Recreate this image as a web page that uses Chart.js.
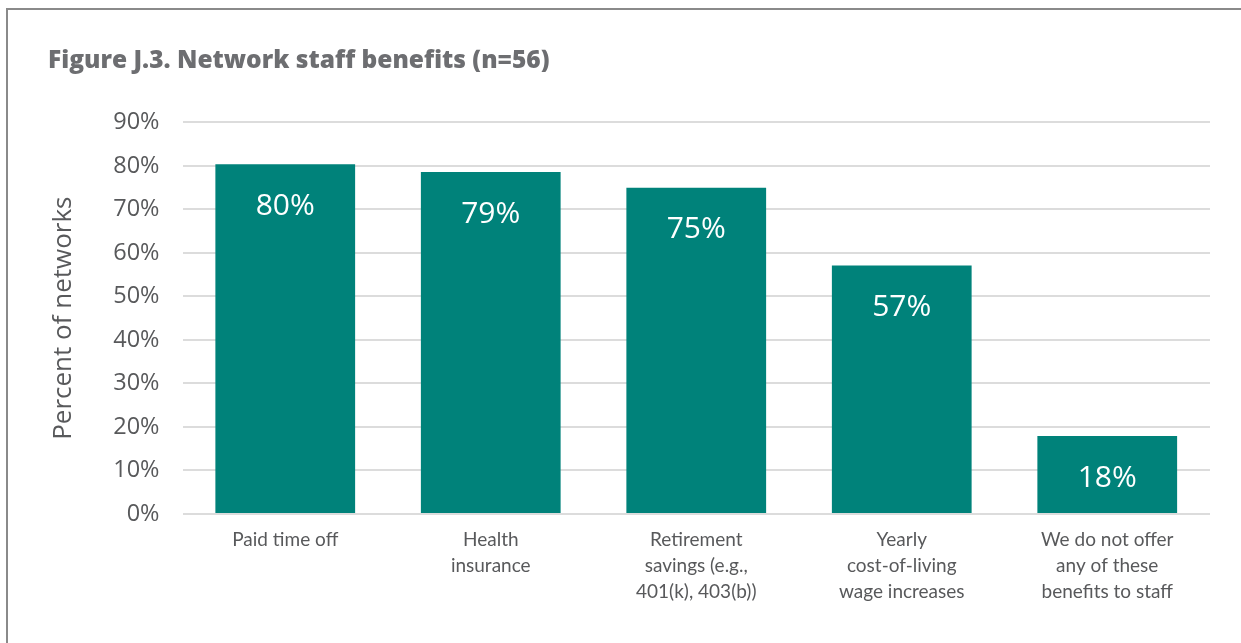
<!DOCTYPE html>
<html>
<head>
<meta charset="utf-8">
<script src="https://cdn.jsdelivr.net/npm/chart.js@4/dist/chart.umd.min.js"></script>
<style>
  html, body { margin: 0; padding: 0; background: #ffffff; overflow: hidden; }
  #frame {
    position: absolute; left: 6px; top: 8px; width: 1300px; height: 700px;
    border-left: 2px solid #8a8a8a; border-top: 2px solid #8a8a8a;
  }
  #wrap { position: absolute; left: 0; top: 0; width: 1241px; height: 643px; }
</style>
</head>
<body>
<div id="frame"></div>
<div id="wrap"><canvas id="chart" width="1241" height="643"></canvas></div>
<script>
// Benefits offered to network staff, share of networks (n=56)
const categories = [
  ["Paid time off"],
  ["Health", "insurance"],
  ["Retirement", "savings (e.g.,", "401(k), 403(b))"],
  ["Yearly", "cost-of-living", "wage increases"],
  ["We do not offer", "any of these", "benefits to staff"]
];
const percentValues = [80.4, 78.6, 75.0, 57.1, 17.9];
const yTicks = [0, 10, 20, 30, 40, 50, 60, 70, 80, 90];

const TEAL = "#00827a";
const TEXT = "#58595b";
const WIDE = "'Open Sans', Lato, sans-serif";
const NARROW = "Lato, 'Open Sans', sans-serif";

// White value labels drawn inside the top of each bar
const insideLabels = {
  id: "insideLabels",
  afterDatasetsDraw(chart) {
    const ctx = chart.ctx;
    const meta = chart.getDatasetMeta(0);
    ctx.save();
    ctx.fillStyle = "#ffffff";
    ctx.font = "30px " + WIDE;
    ctx.textAlign = "center";
    ctx.textBaseline = "middle";
    meta.data.forEach((bar, i) => {
      const v = chart.data.datasets[0].data[i];
      ctx.fillText(Math.round(v) + "%", bar.x, bar.y + 42);
    });
    ctx.restore();
  }
};

new Chart(document.getElementById("chart"), {
  type: "bar",
  data: {
    labels: categories,
    datasets: [{
      data: percentValues,
      backgroundColor: TEAL,
      borderWidth: 0,
      categoryPercentage: 1.0,
      barPercentage: 0.68
    }]
  },
  options: {
    responsive: false,
    devicePixelRatio: 1,
    animation: false,
    layout: { padding: { left: 48, right: 31, top: 0, bottom: 33 } },
    plugins: {
      legend: { display: false },
      tooltip: { enabled: false },
      title: {
        display: true,
        text: "Figure J.3. Network staff benefits (n=56)",
        align: "start",
        color: "#6d6e71",
        font: { family: WIDE, size: 24.5, weight: "800" },
        padding: { top: 46, bottom: 47 }
      }
    },
    scales: {
      x: {
        grid: { display: false },
        border: { display: false },
        ticks: {
          color: TEXT,
          font: { family: NARROW, size: 19, lineHeight: 1.37 },
          padding: 5,
          maxRotation: 0,
          autoSkip: false
        }
      },
      y: {
        min: yTicks[0],
        max: yTicks[yTicks.length - 1],
        afterBuildTicks(axis) {
          axis.ticks = yTicks.map(v => ({ value: v }));
        },
        grid: { color: "#dcdcdc", lineWidth: 2, drawTicks: false },
        border: { display: false },
        ticks: {
          color: TEXT,
          font: { family: WIDE, size: 23.5 },
          padding: 23,
          callback: v => v + "%"
        },
        title: {
          display: true,
          text: "Percent of networks",
          color: TEXT,
          font: { family: WIDE, size: 26 },
          padding: { top: 0, bottom: 11 }
        }
      }
    }
  },
  plugins: [insideLabels]
});
</script>
</body>
</html>
